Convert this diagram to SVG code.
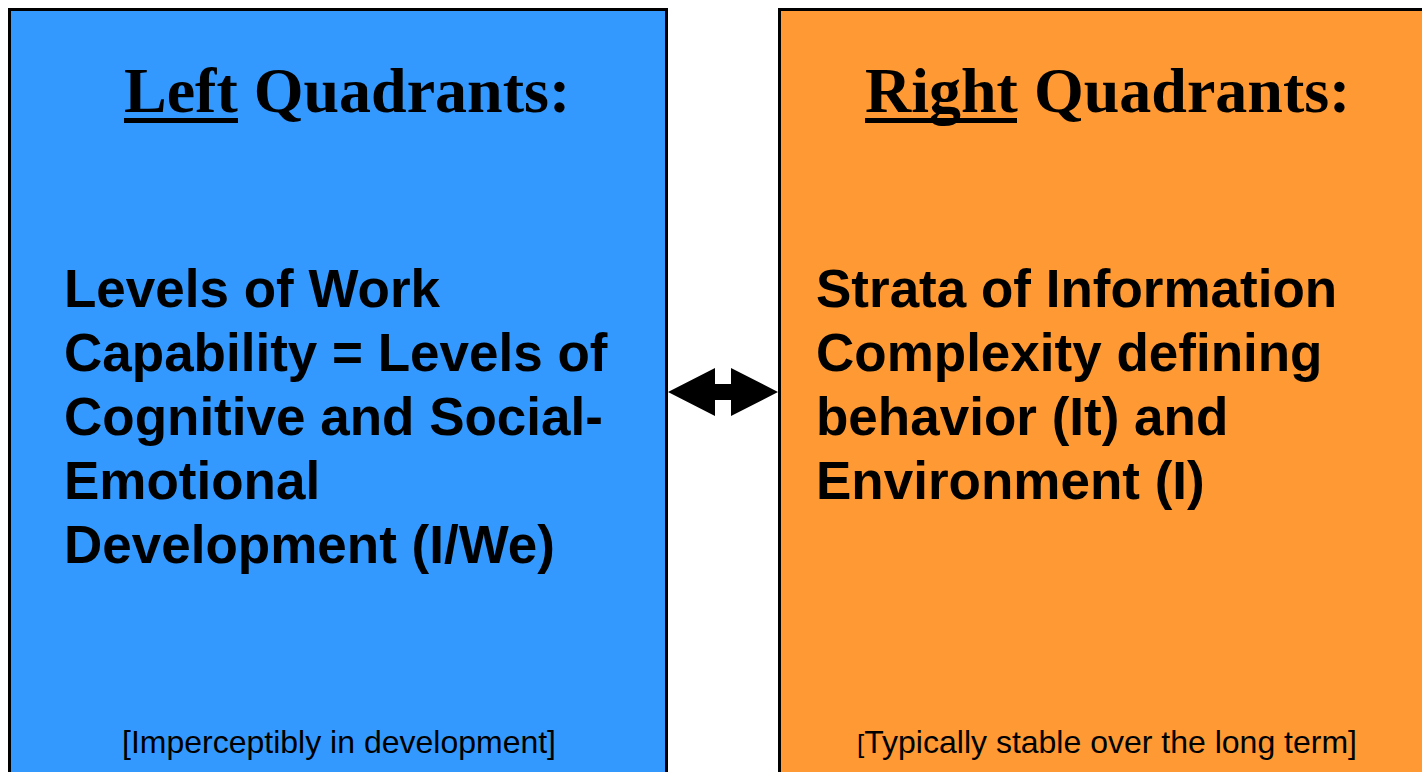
<svg xmlns="http://www.w3.org/2000/svg" width="1422" height="772" viewBox="0 0 1422 772">
<style>
.box{stroke:#000;stroke-width:3}
.title{font-family:"Liberation Serif","Times New Roman",serif;font-weight:bold;font-size:64px;fill:#000}
.body{font-family:"Liberation Sans",Arial,sans-serif;font-weight:bold;font-size:53px;fill:#000}
.note{font-family:"Liberation Sans",Arial,sans-serif;font-size:32px;fill:#000;text-anchor:middle}
</style>
<rect width="1422" height="772" fill="#fff"/>
<g id="left">
<rect class="box" x="9.5" y="9.5" width="657" height="780" fill="#3399FF"/>
<text class="title" x="124" y="112">Left Quadrants:</text>
<rect x="124" y="118" width="114" height="5" fill="#000"/>
<text class="body" x="64" y="307">Levels of Work</text>
<text class="body" x="64" y="371">Capability = Levels of</text>
<text class="body" x="64" y="435">Cognitive and Social-</text>
<text class="body" x="64" y="499">Emotional</text>
<text class="body" x="64" y="563">Development (I/We)</text>
<text class="note" x="339" y="753">[Imperceptibly in development]</text>
</g>
<g id="right">
<rect class="box" x="779.5" y="9.5" width="680" height="780" fill="#FF9933"/>
<text class="title" x="865" y="112">Right Quadrants:</text>
<rect x="865" y="118" width="152" height="5" fill="#000"/>
<text class="body" x="816" y="307">Strata of Information</text>
<text class="body" x="816" y="371">Complexity defining</text>
<text class="body" x="816" y="435">behavior (It) and</text>
<text class="body" x="816" y="499">Environment (I)</text>
<text class="note" x="1107" y="753"><tspan font-size="26">[</tspan>Typically stable over the long term]</text>
</g>
<g id="connectors">
<polygon points="668,392 715,368 715,384 731,384 731,368 778,392 731,416 731,400 715,400 715,416" fill="#000"/>
</g>
</svg>
